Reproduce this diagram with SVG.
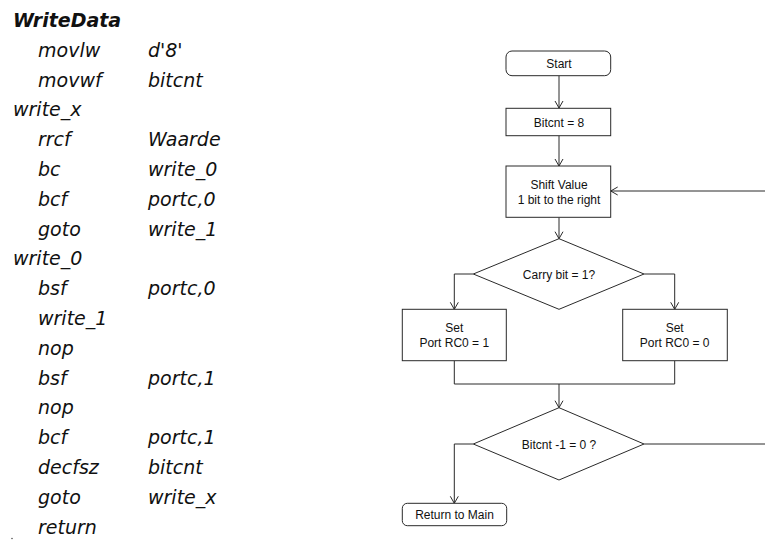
<svg xmlns="http://www.w3.org/2000/svg" width="765" height="542" viewBox="0 0 765 542">
  <style>
    .code { font-family: "DejaVu Sans", Verdana, sans-serif; font-size: 19px; font-style: italic; fill: #111; }
    .title { font-weight: bold; }
    .box { fill: #fff; stroke: #2a2a2a; stroke-width: 1; }
    .lbl { font-family: "Liberation Sans", Arial, Helvetica, sans-serif; font-size: 12px; fill: #111; text-anchor: middle; }
    .wire { fill: none; stroke: #2a2a2a; stroke-width: 1; }
  </style>
  <defs>
    <marker id="arrow" viewBox="-8 -5 9 10" refX="0" refY="0" markerWidth="9" markerHeight="10" markerUnits="userSpaceOnUse" orient="auto">
      <path d="M-7,-4 L0,0 L-7,4" fill="none" stroke="#2a2a2a" stroke-width="1"/>
    </marker>
  </defs>
  <rect width="765" height="542" fill="#fff"/>

  <!-- assembly listing -->
  <g id="listing">
    <text class="code title" x="13" y="27">WriteData</text>
    <text class="code" x="38" y="56.8">movlw</text><text class="code" x="148" y="56.8">d'8'</text>
    <text class="code" x="38" y="86.6">movwf</text><text class="code" x="148" y="86.6">bitcnt</text>
    <text class="code" x="13" y="116.4">write_x</text>
    <text class="code" x="38" y="146.2">rrcf</text><text class="code" x="148" y="146.2">Waarde</text>
    <text class="code" x="38" y="176">bc</text><text class="code" x="148" y="176">write_0</text>
    <text class="code" x="38" y="205.8">bcf</text><text class="code" x="148" y="205.8">portc,0</text>
    <text class="code" x="38" y="235.6">goto</text><text class="code" x="148" y="235.6">write_1</text>
    <text class="code" x="13" y="265.4">write_0</text>
    <text class="code" x="38" y="295.2">bsf</text><text class="code" x="148" y="295.2">portc,0</text>
    <text class="code" x="38" y="325">write_1</text>
    <text class="code" x="38" y="354.8">nop</text>
    <text class="code" x="38" y="384.6">bsf</text><text class="code" x="148" y="384.6">portc,1</text>
    <text class="code" x="38" y="414.4">nop</text>
    <text class="code" x="38" y="444.2">bcf</text><text class="code" x="148" y="444.2">portc,1</text>
    <text class="code" x="38" y="474">decfsz</text><text class="code" x="148" y="474">bitcnt</text>
    <text class="code" x="38" y="503.8">goto</text><text class="code" x="148" y="503.8">write_x</text>
    <text class="code" x="38" y="533.6">return</text>
    <circle cx="12" cy="538.5" r="0.8" fill="#555"/>
  </g>

  <!-- flowchart connectors -->
  <g id="connectors">
    <path class="wire" d="M559,75.7 V108" marker-end="url(#arrow)"/>
    <path class="wire" d="M559,135.7 V166" marker-end="url(#arrow)"/>
    <path class="wire" d="M559,217.3 V238.7" marker-end="url(#arrow)"/>
    <path class="wire" d="M473.3,274 H454.3 V309.3" marker-end="url(#arrow)"/>
    <path class="wire" d="M644,274 H674.7 V309.3" marker-end="url(#arrow)"/>
    <path class="wire" d="M454.3,360.7 V384 H674.7 V360.7"/>
    <path class="wire" d="M559,384 V407.7" marker-end="url(#arrow)"/>
    <path class="wire" d="M473.3,444 H454.3 V503.3" marker-end="url(#arrow)"/>
    <path class="wire" d="M644,444 H765"/>
    <path class="wire" d="M765,191 H610.7" marker-end="url(#arrow)"/>
  </g>

  <!-- flowchart nodes -->
  <g id="start">
    <rect class="box" x="506" y="51" width="104.7" height="24.7" rx="6"/>
    <text class="lbl" x="559" y="68.3">Start</text>
  </g>
  <g id="bitcnt-init">
    <rect class="box" x="506" y="108.3" width="104.7" height="27.4"/>
    <text class="lbl" x="559" y="126.5">Bitcnt = 8</text>
  </g>
  <g id="shift-value">
    <rect class="box" x="506" y="166" width="104.7" height="51.3"/>
    <text class="lbl" x="559" y="189">Shift Value</text>
    <text class="lbl" x="559" y="204">1 bit to the right</text>
  </g>
  <g id="carry-check">
    <polygon class="box" points="559,238.7 644,274 559,309.3 473.3,274"/>
    <text class="lbl" x="559" y="278.5">Carry bit = 1?</text>
  </g>
  <g id="set-rc0-1">
    <rect class="box" x="402.3" y="309.3" width="104" height="51.4"/>
    <text class="lbl" x="454.3" y="332.3">Set</text>
    <text class="lbl" x="454.3" y="347.3">Port RC0 = 1</text>
  </g>
  <g id="set-rc0-0">
    <rect class="box" x="622.7" y="309.3" width="104.6" height="51.4"/>
    <text class="lbl" x="674.7" y="332.3">Set</text>
    <text class="lbl" x="674.7" y="347.3">Port RC0 = 0</text>
  </g>
  <g id="count-check">
    <polygon class="box" points="559,407.7 644,444 559,480 473.3,444"/>
    <text class="lbl" x="559" y="448.5">Bitcnt -1 = 0 ?</text>
  </g>
  <g id="return-main">
    <rect class="box" x="402.3" y="503.3" width="104.4" height="22.4" rx="5"/>
    <text class="lbl" x="454.5" y="519">Return to Main</text>
  </g>
</svg>
